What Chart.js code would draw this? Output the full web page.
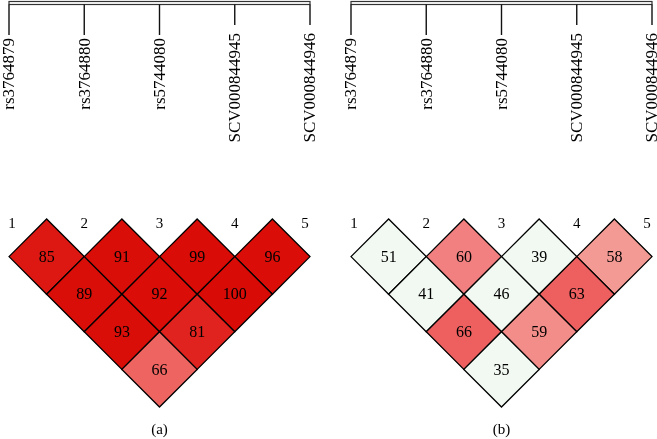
<!DOCTYPE html>
<html>
<head>
<meta charset="utf-8">
<script src="https://cdn.jsdelivr.net/npm/chart.js@4.4.0/dist/chart.umd.min.js"></script>
<style>
  body { margin: 0; background: #fff; width: 657px; height: 439px; position: relative; overflow: hidden; }
  canvas { position: absolute; top: 0; }
</style>
</head>
<body>
<canvas id="ldA" width="330" height="439" style="left:0"></canvas>
<canvas id="ldB" width="327" height="439" style="left:330px"></canvas>
<script>
// Marcadores (SNPs) y pares de la matriz LD, fila por fila
const marcadores = ['rs3764879', 'rs3764880', 'rs5744080', 'SCV000844945', 'SCV000844946'];
const pares = [[0, 1], [1, 2], [2, 3], [3, 4], [0, 2], [1, 3], [2, 4], [0, 3], [1, 4], [0, 4]];

// Valores de cada celda, mismo orden que "pares"
const valoresA = [85, 91, 99, 96, 89, 92, 100, 93, 81, 66];
const valoresB = [51, 60, 39, 58, 41, 46, 63, 66, 59, 35];

// Colores de cada celda
const coloresA = ['#dd1812', '#da0e08', '#da0c07', '#da0d08', '#da0e08', '#da0d08', '#d90b06', '#da0e08', '#e0231e', '#ee6461'];
const coloresB = ['#f2f9f2', '#f28080', '#f2f9f2', '#f49a94', '#f2f9f2', '#f2f9f2', '#ee5f5f', '#ee5f5f', '#f38d89', '#f2f9f2'];

const etiquetasPanel = ['(a)', '(b)'];

const fuente = "'Liberation Serif', 'Times New Roman', serif";

// Medio ancho de celda en píxeles, tomado de la escala x
function mitadCelda(chart) {
  const x = chart.scales.x;
  return (x.getPixelForValue(1) - x.getPixelForValue(0)) / 2;
}

// Dibuja textos de celdas, cabecera con marcadores, números y rótulo del panel
function dibujoLD(etiqueta, valores) {
  return {
    id: 'dibujoLD',
    afterDatasetsDraw(chart) {
      const ctx = chart.ctx;
      const xs = chart.scales.x;
      const meta = chart.getDatasetMeta(0);
      ctx.save();
      ctx.fillStyle = '#000';
      ctx.textAlign = 'center';
      ctx.textBaseline = 'middle';

      // valores dentro de las celdas
      ctx.font = '16px ' + fuente;
      meta.data.forEach((pt, k) => {
        ctx.fillText(String(valores[k]), pt.x, pt.y + 1);
      });

      // números de marcador
      ctx.font = '15px ' + fuente;
      marcadores.forEach((m, i) => {
        const ajuste = i === 0 ? 3 : (i === marcadores.length - 1 ? -5 : 0);
        ctx.fillText(String(i + 1), xs.getPixelForValue(i) + ajuste, 224);
      });

      // barra superior
      const x0 = xs.getPixelForValue(0);
      const x4 = xs.getPixelForValue(marcadores.length - 1);
      ctx.strokeStyle = '#333';
      ctx.lineWidth = 1.2;
      ctx.strokeRect(x0, 1.5, x4 - x0, 3);

      // marcas y nombres
      ctx.font = '17px ' + fuente;
      marcadores.forEach((m, i) => {
        const px = xs.getPixelForValue(i);
        const largo = m.length > 10;
        const fin = largo ? 25 : 35;
        ctx.strokeStyle = '#111';
        ctx.lineWidth = 1.4;
        ctx.beginPath();
        ctx.moveTo(px, 4.5);
        ctx.lineTo(px, fin);
        ctx.stroke();
        ctx.save();
        ctx.translate(px + 1, largo ? 33 : 38);
        ctx.rotate(-Math.PI / 2);
        ctx.textAlign = 'right';
        ctx.textBaseline = 'middle';
        ctx.fillText(m, 0, 0);
        ctx.restore();
      });

      // rótulo del panel
      ctx.font = '15px ' + fuente;
      ctx.fillText(etiqueta, xs.getPixelForValue(2), 430);
      ctx.restore();
    }
  };
}

function crearPanel(id, valores, colores, etiqueta, padIzq, padDer) {
  new Chart(document.getElementById(id), {
    type: 'scatter',
    data: {
      datasets: [{
        data: pares.map(p => ({ x: (p[0] + p[1]) / 2, y: p[1] - p[0] })),
        backgroundColor: colores,
        borderColor: '#000',
        borderWidth: 1.3,
        pointStyle: 'rectRot',
        pointRadius: ctx => mitadCelda(ctx.chart),
        pointHoverRadius: ctx => mitadCelda(ctx.chart),
        clip: false,
      }],
    },
    options: {
      responsive: false,
      animation: false,
      events: [],
      layout: { padding: { left: padIzq, right: padDer, top: 219, bottom: 32 } },
      scales: {
        x: { type: 'linear', min: 0, max: marcadores.length - 1, display: false },
        y: { type: 'linear', min: 0, max: marcadores.length, reverse: true, display: false },
      },
      plugins: { legend: { display: false }, tooltip: { enabled: false } },
    },
    plugins: [dibujoLD(etiqueta, valores)],
  });
}

crearPanel('ldA', valoresA, coloresA, etiquetasPanel[0], 9, 20);
crearPanel('ldB', valoresB, coloresB, etiquetasPanel[1], 21, 5);
</script>
</body>
</html>
